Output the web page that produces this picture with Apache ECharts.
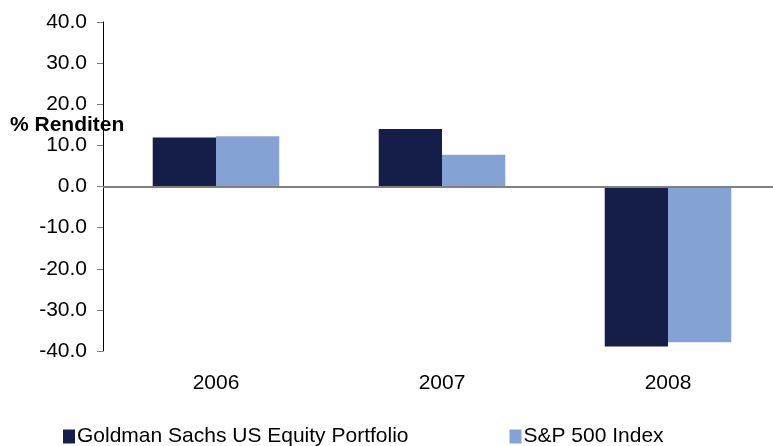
<!DOCTYPE html>
<html>
<head>
<meta charset="utf-8">
<title>Renditen</title>
<script src="https://cdn.jsdelivr.net/npm/echarts@6/dist/echarts.min.js"></script>
<style>
  html, body { margin: 0; padding: 0; background: #fff; overflow: hidden; }
  /* the plot runs a few px past the right edge, as in the reference */
  #chart { width: 790px; height: 446px; }
</style>
</head>
<body>
<div id="chart"></div>
<script>
// data
var years = ['2006', '2007', '2008'];
var gsValues = [11.9, 14.0, -38.9];
var spValues = [12.2, 7.7, -37.9];
var seriesNames = ['Goldman Sachs US Equity Portfolio', 'S&P 500 Index'];

var FONT = 'Liberation Sans, Arial, sans-serif';

var chart = echarts.init(document.getElementById('chart'));

chart.setOption({
  animation: false,
  backgroundColor: '#fff',
  title: {
    text: '% Renditen',
    left: 5,
    top: 110,
    textStyle: { fontFamily: FONT, fontSize: 21, fontWeight: 'bold', color: '#000' }
  },
  legend: {
    left: 58,
    top: 421,
    itemWidth: 12,
    itemHeight: 14,
    itemGap: 101,
    icon: 'rect',
    textStyle: { fontFamily: FONT, fontSize: 21, color: '#000', padding: [0, 0, 0, -3] },
    data: seriesNames
  },
  grid: { left: 103, right: 9, top: 22, bottom: 95, containLabel: false },
  xAxis: {
    type: 'category',
    data: years,
    axisLine: { show: false, onZero: false },
    axisTick: { show: false },
    axisLabel: { margin: 22, fontFamily: FONT, fontSize: 21, color: '#000' }
  },
  yAxis: {
    type: 'value',
    min: -40,
    max: 40,
    interval: 10,
    axisLine: { show: true, lineStyle: { color: '#000', width: 1 } },
    axisTick: { show: true, length: 6, lineStyle: { color: '#808080' } },
    splitLine: { show: false },
    axisLabel: {
      margin: 16,
      fontFamily: FONT,
      fontSize: 21,
      color: '#000',
      formatter: function (v) { return v.toFixed(1); }
    }
  },
  series: [
    {
      name: seriesNames[0],
      type: 'bar',
      data: gsValues,
      barGap: '0%',
      barCategoryGap: '44%',
      itemStyle: { color: '#141E48' },
      markLine: {
        silent: true,
        symbol: 'none',
        label: { show: false },
        lineStyle: { color: '#808080', width: 2, type: 'solid' },
        data: [{ yAxis: 0 }],
        z: 5
      }
    },
    {
      name: seriesNames[1],
      type: 'bar',
      data: spValues,
      itemStyle: { color: '#84A3D4' }
    }
  ]
});
</script>
</body>
</html>
